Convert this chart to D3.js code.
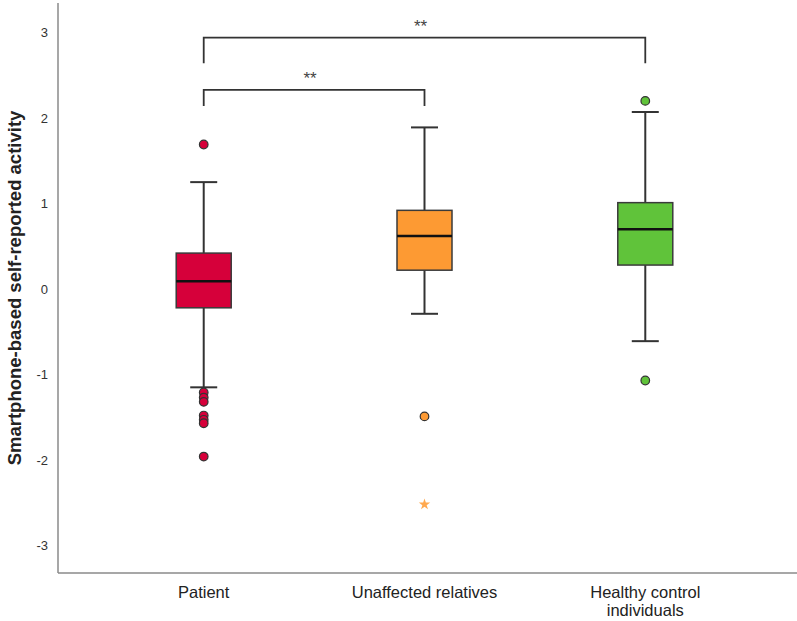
<!DOCTYPE html>
<html>
<head>
<meta charset="utf-8">
<script src="https://cdn.jsdelivr.net/npm/d3@7"></script>
<style>
  body { margin: 0; background: #fff; }
  svg { display: block; font-family: "Liberation Sans", Arial, sans-serif; }
</style>
</head>
<body>
<svg id="chart"></svg>
<script>
const groups = ["Patient", "Unaffected relatives", "Healthy control individuals"];
const groupLines = [["Patient"], ["Unaffected relatives"], ["Healthy control", "individuals"]];
const q1 = [-0.22, 0.22, 0.28];
const medians = [0.09, 0.62, 0.70];
const q3 = [0.42, 0.92, 1.01];
const whiskerLow = [-1.15, -0.29, -0.61];
const whiskerHigh = [1.25, 1.89, 2.07];
const outliers = [
  [1.69, -1.21, -1.27, -1.32, -1.48, -1.53, -1.57, -1.96],
  [-1.49],
  [2.20, -1.07]
];
const extremes = [[], [-2.52], []];
const colors = ["#d6003a", "#fd9a33", "#60c33a"];
const extremeColor = "#ffa94f";
const yTicks = [-3, -2, -1, 0, 1, 2, 3];
// significance brackets: [from group, to group, bar level, leg end, label]
const brackets = [
  ["Patient", "Unaffected relatives", 2.33, 2.14, "**"],
  ["Patient", "Healthy control individuals", 2.94, 2.64, "**"]
];

const W = 797, H = 621;
const plotLeft = 58, plotRight = 797, plotTop = 3, plotBottom = 573;

const svg = d3.select("#chart").attr("width", W).attr("height", H);

const x = d3.scalePoint()
  .domain(groups)
  .range([plotLeft, plotRight - 6])
  .padding(0.66);

const y = d3.scaleLinear()
  .domain([-3, 3])
  .range([545.5, 32.5]);

// axes
svg.append("line")
  .attr("x1", plotLeft).attr("x2", plotLeft)
  .attr("y1", plotTop).attr("y2", plotBottom)
  .attr("stroke", "#8a8a8a").attr("stroke-width", 1.5);
svg.append("line")
  .attr("x1", plotLeft).attr("x2", plotRight)
  .attr("y1", plotBottom).attr("y2", plotBottom)
  .attr("stroke", "#8a8a8a").attr("stroke-width", 1.5);

const yAxis = d3.axisLeft(y).tickValues(yTicks).tickSize(0).tickPadding(10).tickFormat(d => String(d));
const yg = svg.append("g").attr("transform", `translate(${plotLeft},0)`).call(yAxis);
yg.select(".domain").remove();
yg.selectAll("text").attr("font-size", 13).attr("fill", "#333")
  .attr("font-family", "Liberation Sans, Arial, sans-serif");

svg.append("text")
  .attr("transform", `translate(21,${(plotTop + plotBottom) / 2}) rotate(-90)`)
  .attr("text-anchor", "middle")
  .attr("font-size", 18.5)
  .attr("font-weight", "bold")
  .attr("fill", "#222")
  .text("Smartphone-based self-reported activity");

// category labels
groupLines.forEach((lines, i) => {
  const t = svg.append("text")
    .attr("x", x(groups[i]))
    .attr("y", 598)
    .attr("text-anchor", "middle")
    .attr("font-size", 16.5)
    .attr("fill", "#222");
  lines.forEach((ln, j) => {
    t.append("tspan").attr("x", x(groups[i])).attr("dy", j === 0 ? 0 : 18).text(ln);
  });
});

const boxW = 55, capW = 27;

groups.forEach((g, i) => {
  const cx = x(g);
  const gg = svg.append("g");
  // whiskers
  gg.append("line").attr("x1", cx).attr("x2", cx)
    .attr("y1", y(whiskerHigh[i])).attr("y2", y(q3[i]))
    .attr("stroke", "#333").attr("stroke-width", 2);
  gg.append("line").attr("x1", cx).attr("x2", cx)
    .attr("y1", y(q1[i])).attr("y2", y(whiskerLow[i]))
    .attr("stroke", "#333").attr("stroke-width", 2);
  [whiskerHigh[i], whiskerLow[i]].forEach(v => {
    gg.append("line").attr("x1", cx - capW / 2).attr("x2", cx + capW / 2)
      .attr("y1", y(v)).attr("y2", y(v))
      .attr("stroke", "#333").attr("stroke-width", 2);
  });
  // box
  gg.append("rect")
    .attr("x", cx - boxW / 2).attr("width", boxW)
    .attr("y", y(q3[i])).attr("height", y(q1[i]) - y(q3[i]))
    .attr("fill", colors[i]).attr("stroke", "#3a3a3a").attr("stroke-width", 1.5);
  gg.append("line").attr("x1", cx - boxW / 2).attr("x2", cx + boxW / 2)
    .attr("y1", y(medians[i])).attr("y2", y(medians[i]))
    .attr("stroke", "#111").attr("stroke-width", 2.5);
  // outliers
  gg.selectAll("circle.out").data(outliers[i]).enter().append("circle")
    .attr("class", "out")
    .attr("cx", cx).attr("cy", d => y(d)).attr("r", 4.3)
    .attr("fill", colors[i]).attr("stroke", "#333").attr("stroke-width", 1.2);
  gg.selectAll("path.ext").data(extremes[i]).enter().append("path")
    .attr("class", "ext")
    .attr("transform", d => `translate(${cx},${y(d)})`)
    .attr("d", d3.symbol(d3.symbolStar, 40))
    .attr("fill", extremeColor);
});

// significance brackets
brackets.forEach(([a, b, level, leg, label]) => {
  const x1 = x(a), x2 = x(b);
  svg.append("path")
    .attr("d", `M${x1},${y(leg)}V${y(level)}H${x2}V${y(leg)}`)
    .attr("fill", "none").attr("stroke", "#333").attr("stroke-width", 1.8);
  svg.append("text")
    .attr("x", (x1 + x2) / 2 - 4)
    .attr("y", y(level) - 6)
    .attr("text-anchor", "middle")
    .attr("font-size", 17)
    .attr("fill", "#444")
    .text(label);
});
</script>
</body>
</html>
